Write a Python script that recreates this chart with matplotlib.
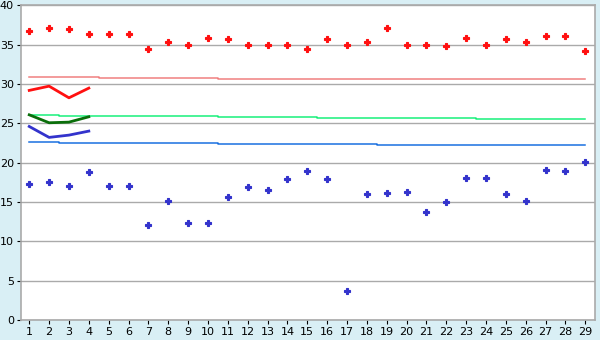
import numpy as np
import matplotlib
matplotlib.use("Agg")
import matplotlib.pyplot as plt

# data
days = list(range(1, 30))
high = [36.66, 37.16, 37.0, 36.4, 36.3, 36.4, 34.37, 35.26, 35.0, 35.77,
        35.64, 35.0, 35.0, 35.0, 34.37, 35.64, 35.0, 35.26, 37.04, 35.0,
        35.0, 34.87, 35.77, 35.0, 35.64, 35.26, 36.02, 36.02, 34.24]
low = [17.23, 17.48, 16.97, 18.84, 16.97, 16.97, 12.02, 15.07, 12.27, 12.27,
       15.58, 16.85, 16.46, 17.86, 18.96, 17.86, 3.64, 15.96, 16.08, 16.21,
       13.67, 14.94, 17.99, 17.99, 15.96, 15.07, 19.0, 18.88, 20.03]
high_avg = [30.82] * 4 + [30.69] * 6 + [30.56] * 19
mid_avg = [26.0] * 2 + [25.86] * 8 + [25.74] * 5 + [25.61] * 8 + [25.48] * 6
low_avg = [22.56] * 2 + [22.43] * 8 + [22.31] * 8 + [22.18] * 11

first_days = [1, 2, 3, 4]
high_recent = [29.17, 29.71, 28.23, 29.46]
mid_recent = [26.07, 25.06, 25.14, 25.82]
low_recent = [24.59, 23.2, 23.49, 24.0]

fig = plt.figure(figsize=(6, 3.4), dpi=100)
fig.patch.set_facecolor("#d9eff5")
ax = fig.add_axes([0.0345, 0.0588, 0.9575, 0.926])
ax.set_facecolor("white")

ax.step(days, high_avg, where="mid", color="#f08080", lw=1.1)
ax.step(days, mid_avg, where="mid", color="#19f07a", lw=1.1)
ax.step(days, low_avg, where="mid", color="#1a70e0", lw=1.1)

ax.plot(first_days, high_recent, color="#ff1010", lw=2)
ax.plot(first_days, mid_recent, color="#0a6e0a", lw=2)
ax.plot(first_days, low_recent, color="#3333cc", lw=2)

ax.plot(days, high, "P", color="#ff1010", ms=5, mew=0.8)
ax.plot(days, low, "P", color="#3333cc", ms=5, mew=0.8)

ax.set_xlim(0.57, 29.5)
ax.set_ylim(0, 40)
ax.set_xticks(days)
ax.set_yticks(np.arange(0, 41, 5))
ax.yaxis.grid(True, color="#aaaaaa", lw=1)
ax.set_axisbelow(True)
for s in ax.spines.values():
    s.set_color("#aaaaaa")
    s.set_linewidth(1.2)
ax.tick_params(axis="both", labelsize=8, length=3, color="black", pad=2)

fig.savefig("out.png", dpi=100, facecolor=fig.get_facecolor())
